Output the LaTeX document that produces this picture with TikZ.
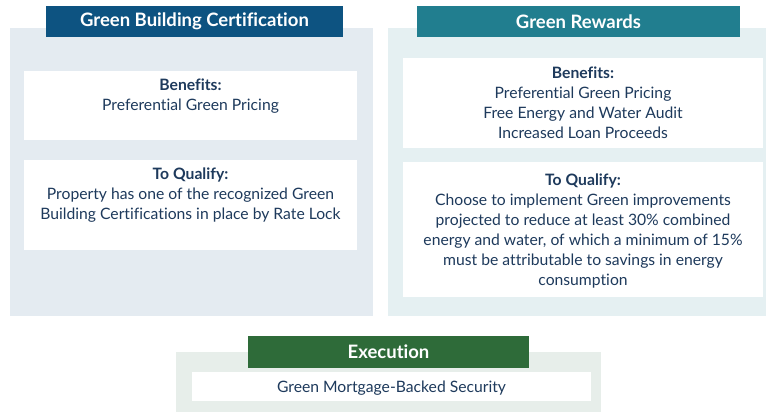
\documentclass[tikz,border=0pt]{standalone}
\usepackage{fontspec}
\setmainfont[Ligatures={NoCommon}]{Lato}
\definecolor{txt}{HTML}{1E3A5C}
\definecolor{hblue}{HTML}{0D5381}
\definecolor{hteal}{HTML}{217E8F}
\definecolor{hgreen}{HTML}{2E6B39}
\definecolor{bgblue}{HTML}{E4EBF1}
\definecolor{bgteal}{HTML}{E5F0F2}
\definecolor{bggreen}{HTML}{E7EEEA}
\tikzset{
  panel/.style={fill=#1, draw=none, inner sep=0, outer sep=0},
  whitebox/.style={fill=white, draw=none, inner sep=0, outer sep=0},
  header/.style={fill=#1, draw=none, inner sep=0, text=white, font=\fontsize{18.5}{20}\selectfont\bfseries},
  body/.style={text=txt, align=center, inner sep=0, anchor=north, font=\fontsize{15.7}{20}\selectfont},
}
\begin{document}
\begin{tikzpicture}[x=1pt,y=-1pt]
\useasboundingbox (0,0) rectangle (767,412);
% left
\node[panel=bgblue, minimum width=363, minimum height=288] (lp) at (191.5,172) {};
\node[header=hblue, minimum width=297, minimum height=31] (lh) at (194.5,21.5) {Green Building Certification};
\node[whitebox, minimum width=333, minimum height=69] (lb) at (190.5,105.5) {};
\node[whitebox, minimum width=333, minimum height=90] (lq) at (190.5,205) {};
\node[body] (lbt) at (190.5,79) {\textbf{Benefits:}\\Preferential Green Pricing};
\node[body] (lqt) at (190.5,168) {\textbf{To Qualify:}\\Property has one of the recognized Green\\Building Certifications in place by Rate Lock};
% right
\node[panel=bgteal, minimum width=378, minimum height=288] (rp) at (577,172) {};
\node[header=hteal, minimum width=323, minimum height=31] (rh) at (578.5,21.5) {Green Rewards};
\node[whitebox, minimum width=360, minimum height=90] (rb) at (583,103) {};
\node[whitebox, minimum width=360, minimum height=135] (rq) at (583,229.5) {};
\node[body] (rbt) at (583,67) {\textbf{Benefits:}\\Preferential Green Pricing\\Free Energy and Water Audit\\Increased Loan Proceeds};
\node[body] (rqt) at (583,174) {\textbf{To Qualify:}\\Choose to implement Green improvements\\projected to reduce at least 30\% combined\\energy and water, of which a minimum of 15\%\\must be attributable to savings in energy\\consumption};
% execution
\node[panel=bggreen, minimum width=425, minimum height=60] (ep) at (388.5,382) {};
\node[whitebox, minimum width=399, minimum height=29] (eb) at (391.5,386.5) {};
\node[header=hgreen, minimum width=281, minimum height=32] (eh) at (388.5,352) {Execution};
\node[body, anchor=center] (ebt) at (391.5,388) {Green Mortgage-Backed Security};
\end{tikzpicture}
\end{document}
